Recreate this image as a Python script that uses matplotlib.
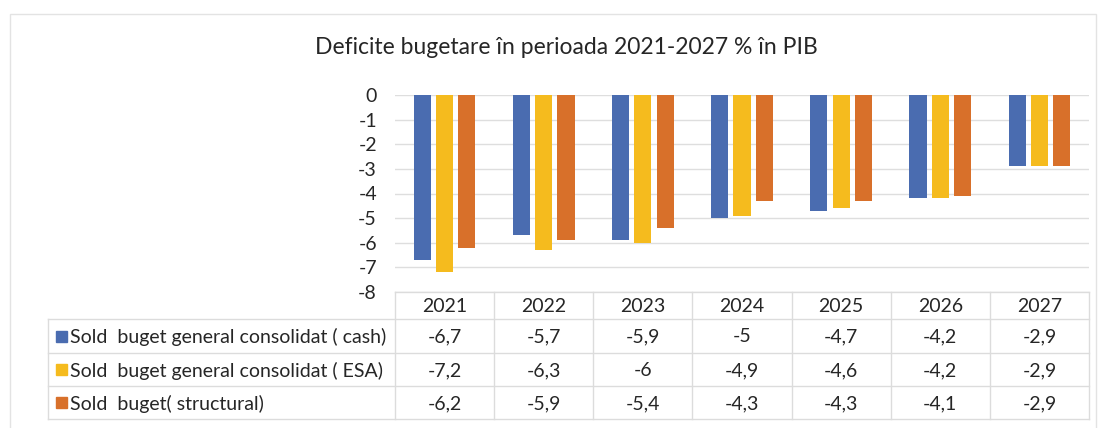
import matplotlib
matplotlib.use("Agg")
import matplotlib.pyplot as plt
from matplotlib.patches import Rectangle
from matplotlib.lines import Line2D
import numpy as np

plt.rcParams['font.family'] = ['Lato', 'DejaVu Sans']
plt.rcParams['axes.unicode_minus'] = False

title = "Deficite bugetare în perioada 2021-2027 % în PIB"
years = ["2021", "2022", "2023", "2024", "2025", "2026", "2027"]
series_names = [
    "Sold  buget general consolidat ( cash)",
    "Sold  buget general consolidat ( ESA)",
    "Sold  buget( structural)",
]
cash = [-6.7, -5.7, -5.9, -5.0, -4.7, -4.2, -2.9]
esa = [-7.2, -6.3, -6.0, -4.9, -4.6, -4.2, -2.9]
structural = [-6.2, -5.9, -5.4, -4.3, -4.3, -4.1, -2.9]
yticks = [0, -1, -2, -3, -4, -5, -6, -7, -8]

colors = ["#4a6cb0", "#f5bb1e", "#d8702a"]
text_color = "#262626"
line_color = "#dedede"

W, H = 1103, 428
fig = plt.figure(figsize=(W / 100, H / 100), dpi=100)

def fx(x):
    return x / W

def fy(y):
    return 1 - y / H

# chart outer border
fig.add_artist(Rectangle((fx(10), fy(430)), fx(1096) - fx(10), fy(14) - fy(430),
                         transform=fig.transFigure, fill=False, edgecolor="#e3e3e3", lw=1))

ax_left, ax_right, ax_top, ax_bottom = 395, 1089, 95, 292
ax = fig.add_axes([fx(ax_left), fy(ax_bottom), fx(ax_right) - fx(ax_left), fy(ax_top) - fy(ax_bottom)])

n = len(years)
x = np.arange(n)
width = 0.172
offset = 0.225
for i, (vals, c) in enumerate(zip([cash, esa, structural], colors)):
    ax.bar(x + (i - 1) * offset, vals, width=width, color=c, zorder=3)

ax.set_xlim(-0.5, n - 0.5)
ax.set_ylim(-8, 0)
ax.set_yticks(yticks)
ax.set_yticklabels([str(t) for t in yticks], fontsize=14, color=text_color)
ax.tick_params(axis='y', length=0, pad=13)
ax.set_xticks([])
ax.grid(axis='y', color=line_color, lw=1, zorder=0)
for s in ax.spines.values():
    s.set_visible(False)

fig.text(fx(566), fy(48), title, ha='center', va='center', fontsize=16.5, color=text_color)

# data table
col_w = (ax_right - ax_left) / n
header_top, row_tops = 292, [319, 353, 386]
table_bottom = 419
tbl_left = 48
lc = "#dcdcdc"

def hline(y, x0, x1):
    fig.add_artist(Line2D([fx(x0), fx(x1)], [fy(y), fy(y)], transform=fig.transFigure, color=lc, lw=1))

def vline(x, y0, y1):
    fig.add_artist(Line2D([fx(x), fx(x)], [fy(y0), fy(y1)], transform=fig.transFigure, color=lc, lw=1))

hline(header_top, ax_left, ax_right)
for y in row_tops:
    hline(y, tbl_left, ax_right)
hline(table_bottom, tbl_left, ax_right)
vline(tbl_left, row_tops[0], table_bottom)
for j in range(n + 1):
    vline(ax_left + j * col_w, header_top, table_bottom)

def fmt(v):
    if float(v).is_integer():
        return str(int(v))
    return f"{v:.1f}".replace('.', ',')

fs = 14
for j, yr in enumerate(years):
    fig.text(fx(ax_left + (j + 0.5) * col_w), fy((header_top + row_tops[0]) / 2 + 1), yr,
             ha='center', va='center', fontsize=fs, color=text_color)

row_bounds = row_tops + [table_bottom]
for i, (name, vals, c) in enumerate(zip(series_names, [cash, esa, structural], colors)):
    yc = (row_bounds[i] + row_bounds[i + 1]) / 2
    sq = 11
    fig.add_artist(Rectangle((fx(56), fy(yc + sq / 2)), fx(sq), fy(0) - fy(sq),
                             transform=fig.transFigure, color=c))
    fig.text(fx(70), fy(yc + 1), name, ha='left', va='center', fontsize=fs, color=text_color)
    for j, v in enumerate(vals):
        fig.text(fx(ax_left + (j + 0.5) * col_w), fy(yc + 1), fmt(v),
                 ha='center', va='center', fontsize=fs, color=text_color)

fig.savefig("out.png", dpi=100, facecolor="white")
